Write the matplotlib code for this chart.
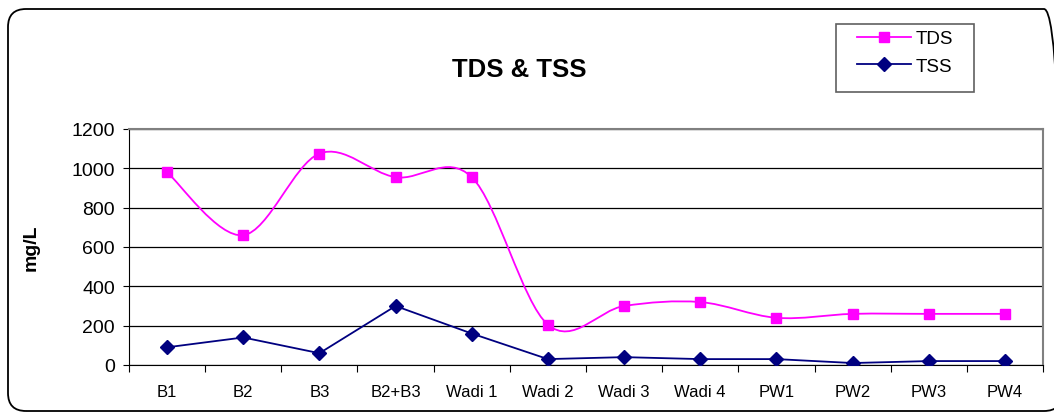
import matplotlib.pyplot as plt
import numpy as np
from matplotlib.path import Path
from matplotlib.patches import PathPatch, FancyBboxPatch, Rectangle
from matplotlib.lines import Line2D

sites = ['B1', 'B2', 'B3', 'B2+B3', 'Wadi 1', 'Wadi 2', 'Wadi 3', 'Wadi 4',
         'PW1', 'PW2', 'PW3', 'PW4']
tds = [980, 660, 1075, 955, 955, 205, 300, 320, 240, 260, 260, 260]
tss = [90, 140, 60, 300, 160, 30, 40, 30, 30, 10, 20, 20]

plt.rcParams['font.family'] = ['Liberation Sans', 'DejaVu Sans']

W, H = 1054, 414


def smooth_path(xs, ys):
    # Excel-style smoothed line: cubic Bezier segments (Catmull-Rom control points)
    p = np.column_stack([xs, ys]).astype(float)
    verts = [p[0]]
    codes = [Path.MOVETO]
    n = len(p)
    for i in range(n - 1):
        p0 = p[i - 1] if i > 0 else p[i]
        p3 = p[i + 2] if i + 2 < n else p[i + 1]
        c1 = p[i] + (p[i + 1] - p0) / 6.0
        c2 = p[i + 1] - (p3 - p[i]) / 6.0
        verts += [c1, c2, p[i + 1]]
        codes += [Path.CURVE4] * 3
    return Path(verts, codes)


fig = plt.figure(figsize=(W / 100, H / 100), dpi=100)
ax = fig.add_axes([129 / W, (H - 366) / H, (1043 - 129) / W, (366 - 130) / H])

x = np.arange(len(sites))
ax.add_patch(PathPatch(smooth_path(x, tds), facecolor='none', edgecolor='#FF00FF',
                       lw=1.3, zorder=3))
ax.plot(x, tds, linestyle='none', marker='s', ms=7.5, color='#FF00FF', zorder=4)
ax.plot(x, tss, color='#000080', lw=1.3, marker='D', ms=7, zorder=4)

ax.set_xlim(-0.5, len(sites) - 0.5)
ax.set_ylim(0, 1200)
ax.set_yticks(range(0, 1201, 200))
ax.yaxis.grid(True, color='black', lw=0.9)
ax.set_axisbelow(True)
ax.tick_params(axis='y', direction='out', length=4, labelsize=14, color='black', pad=6)

ax.set_xticks(np.arange(-0.5, len(sites), 1.0))
ax.set_xticklabels([])
ax.set_xticks(x, minor=True)
ax.set_xticklabels(sites, minor=True)
ax.tick_params(axis='x', which='major', direction='out', length=5, color='black')
ax.tick_params(axis='x', which='minor', length=0, labelsize=12, pad=14)

for s in ['top', 'right']:
    ax.spines[s].set_color('#808080')
    ax.spines[s].set_linewidth(1.5)
ax.spines['left'].set_color('black')
ax.spines['bottom'].set_color('black')

fig.text(31 / W, 1 - 248 / H, 'mg/L', rotation=90, ha='center', va='center',
         fontsize=14, fontweight='bold')
fig.text(519 / W, 1 - 70 / H, 'TDS & TSS', ha='center', va='center',
         fontsize=18.5, fontweight='bold')

# legend: frame drawn by hand so its size matches
fig.patches.append(Rectangle((836 / W, 1 - 93 / H), 138 / W, 68 / H,
                             transform=fig.transFigure, facecolor='white',
                             edgecolor='#606060', lw=1.2, zorder=5))
handles = [Line2D([], [], color='#FF00FF', lw=1.3, marker='s', ms=7.5),
           Line2D([], [], color='#000080', lw=1.3, marker='D', ms=7)]
leg = fig.legend(handles, ['TDS', 'TSS'], loc='upper left',
                 bbox_to_anchor=(857 / W, 1 - 31 / H), frameon=False,
                 fontsize=13.5, handlelength=2.9, borderpad=0, borderaxespad=0,
                 labelspacing=0.55, handletextpad=0.2)
leg.set_zorder(6)

border = FancyBboxPatch((0.08, 0.02), (1062 - 8) / 100, (412 - 10) / 100,
                        boxstyle='round,pad=0,rounding_size=0.18',
                        transform=fig.dpi_scale_trans, facecolor='none',
                        edgecolor='black', lw=1.3)
fig.patches.append(border)

fig.savefig('out.png', dpi=100)
